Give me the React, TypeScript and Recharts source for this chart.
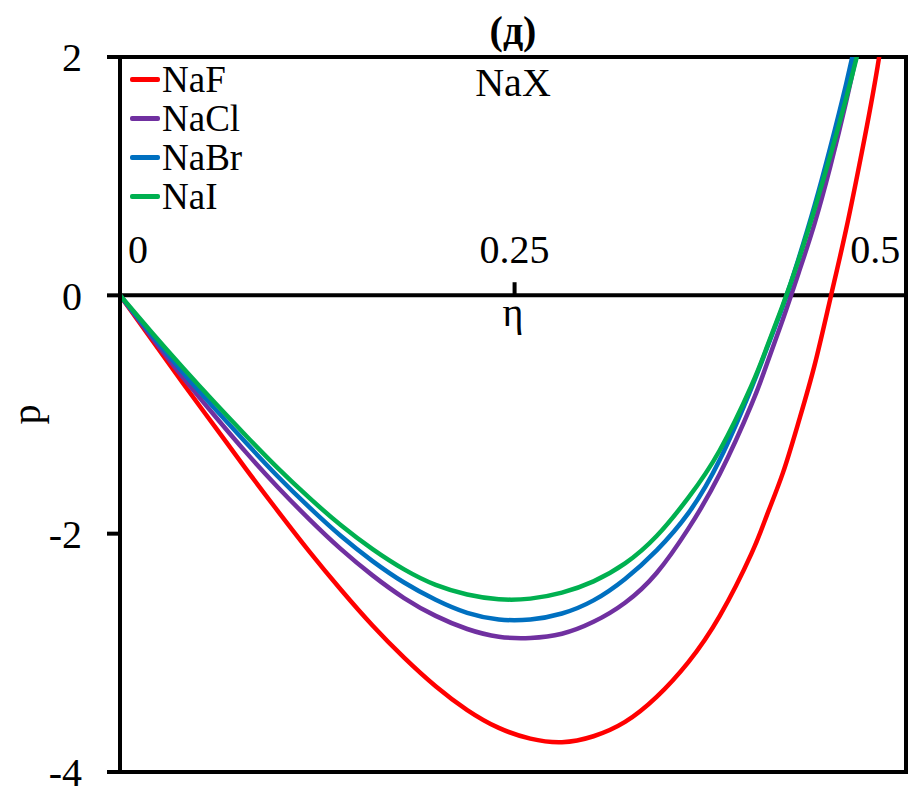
import {
  Legend,
  Line,
  LineChart,
  ReferenceArea,
  ReferenceLine,
  XAxis,
  YAxis,
} from "recharts";

// p(η) for the sodium halides.
const ETA = [
  0, 0.02, 0.04, 0.06, 0.08, 0.1, 0.12, 0.14, 0.16, 0.18, 0.2, 0.22, 0.24,
  0.26, 0.28, 0.3, 0.32, 0.34, 0.36, 0.38, 0.4, 0.41, 0.42, 0.43, 0.44, 0.45,
  0.46, 0.47, 0.48, 0.49,
];
const NAF = [
  0, -0.37, -0.74, -1.1, -1.46, -1.81, -2.15, -2.47, -2.77, -3.04, -3.28,
  -3.48, -3.63, -3.72, -3.75, -3.7, -3.58, -3.37, -3.08, -2.69, -2.17, -1.84,
  -1.49, -1.06, -0.59, -0.03, 0.55, 1.2, 1.92, 2.8,
];
const NACL = [
  0, -0.35, -0.69, -1.01, -1.32, -1.61, -1.88, -2.13, -2.35, -2.54, -2.69,
  -2.8, -2.865, -2.875, -2.84, -2.74, -2.58, -2.33, -1.96, -1.5, -0.92, -0.57,
  -0.2, 0.19, 0.6, 1.08, 1.62, 2.24, 2.95, 3.7,
];
const NABR = [
  0, -0.33, -0.65, -0.95, -1.24, -1.52, -1.78, -2.02, -2.23, -2.41, -2.555,
  -2.665, -2.72, -2.72, -2.67, -2.56, -2.38, -2.14, -1.83, -1.38, -0.78, -0.44,
  -0.09, 0.31, 0.75, 1.24, 1.77, 2.35, 2.97, 3.65,
];
const NAI = [
  0, -0.31, -0.61, -0.9, -1.18, -1.45, -1.7, -1.93, -2.13, -2.3, -2.43, -2.51,
  -2.55, -2.545, -2.495, -2.4, -2.25, -2.02, -1.7, -1.3, -0.76, -0.43, -0.08,
  0.3, 0.72, 1.17, 1.65, 2.17, 2.73, 3.33,
];

const SERIES_NAMES = ["NaF", "NaCl", "NaBr", "NaI"];
const SERIES_COLORS = ["#ff0000", "#7030a0", "#0070c0", "#00b050"];
const Y_TICKS = [-4, -2, 0, 2];
const X_TICKS = [0, 0.25, 0.5];
const X_TICK_LABELS = ["0", "0.25", "0.5"];
const X_MAX = 0.498;

const FONT =
  'Times New Roman, Liberation Serif, DejaVu Serif, Noto Serif, serif';

const rows = ETA.map((eta, i) => ({
  eta,
  NaF: NAF[i],
  NaCl: NACL[i],
  NaBr: NABR[i],
  NaI: NAI[i],
}));

// tick labels sit above the η axis (which runs along p = 0)
function XTickLabel(props: any) {
  const { viewBox, text, index } = props;
  if (!viewBox) return null;
  const last = X_TICKS.length - 1;
  const anchor = index === 0 ? "start" : index === last ? "end" : "middle";
  const dx = index === 0 ? 8 : index === last ? -9 : 0;
  return (
    <text
      x={viewBox.x + dx}
      y={viewBox.y - 19}
      textAnchor={anchor}
      fontFamily={FONT}
      fontSize={40}
      fill="#000"
    >
      {text}
    </text>
  );
}

function YTitle(props: any) {
  const { viewBox } = props;
  if (!viewBox) return null;
  const x = viewBox.x + 26;
  const y = viewBox.y + viewBox.height / 2;
  return (
    <text
      x={x}
      y={y}
      transform={`rotate(-90, ${x}, ${y})`}
      textAnchor="middle"
      dominantBaseline="central"
      fontFamily={FONT}
      fontSize={40}
      fill="#000"
    >
      p
    </text>
  );
}

function LegendBox() {
  return (
    <div style={{ fontFamily: FONT, fontSize: 37, color: "#000" }}>
      {SERIES_NAMES.map((name, i) => (
        <div
          key={name}
          style={{ display: "flex", alignItems: "center", height: 39 }}
        >
          <span
            style={{
              display: "inline-block",
              width: 30,
              height: 5,
              borderRadius: 2,
              background: SERIES_COLORS[i],
            }}
          />
          <span style={{ marginLeft: 2, lineHeight: "39px" }}>{name}</span>
        </div>
      ))}
    </div>
  );
}

export default function App() {
  return (
    <div
      style={{
        position: "absolute",
        left: 0,
        top: 0,
        width: 908,
        height: 787,
        background: "#fff",
      }}
    >
      <LineChart
        width={908}
        height={787}
        data={rows}
        margin={{ top: 57, right: 2, bottom: 15, left: 0 }}
      >
        <XAxis
          type="number"
          dataKey="eta"
          domain={[0, X_MAX]}
          allowDataOverflow
          hide
          height={0}
        />
        <YAxis
          type="number"
          domain={[-4, 2]}
          ticks={Y_TICKS}
          interval={0}
          allowDataOverflow
          width={120}
          tickSize={13}
          tickMargin={25}
          axisLine={{ stroke: "#000", strokeWidth: 4 }}
          tickLine={{ stroke: "#000", strokeWidth: 4 }}
          tick={{ fill: "#000", fontSize: 40, fontFamily: FONT }}
          label={<YTitle />}
        />
        <ReferenceArea
          x1={0}
          x2={X_MAX}
          y1={-4}
          y2={2}
          fill="none"
          fillOpacity={0}
          stroke="#000"
          strokeWidth={4}
          label={{
            value: "(д)",
            position: "top",
            offset: 13,
            fontSize: 40,
            fontWeight: "bold",
            fontFamily: FONT,
            fill: "#000",
          }}
        />
        <ReferenceLine
          y={2}
          stroke="none"
          label={{
            value: "NaX",
            position: "insideTop",
            offset: 11,
            fontSize: 40,
            fontFamily: FONT,
            fill: "#000",
          }}
        />
        <ReferenceLine
          y={0}
          stroke="#000"
          strokeWidth={4}
          label={{
            value: "η",
            position: "bottom",
            offset: 2,
            fontSize: 40,
            fontFamily: FONT,
            fill: "#000",
          }}
        />
        {X_TICKS.map((t, i) => (
          <ReferenceLine
            key={t}
            segment={[
              { x: t, y: 0 },
              { x: t, y: 0.11 },
            ]}
            ifOverflow="visible"
            stroke="#000"
            strokeWidth={4}
            label={<XTickLabel text={X_TICK_LABELS[i]} index={i} />}
          />
        ))}
        <Legend
          layout="vertical"
          align="center"
          verticalAlign="middle"
          content={<LegendBox />}
          wrapperStyle={{ left: 130, top: 60, width: 200 }}
        />
        {SERIES_NAMES.map((name, i) => (
          <Line
            key={name}
            type="natural"
            dataKey={name}
            name={name}
            stroke={SERIES_COLORS[i]}
            strokeWidth={4.5}
            dot={false}
            isAnimationActive={false}
          />
        ))}
      </LineChart>
    </div>
  );
}
